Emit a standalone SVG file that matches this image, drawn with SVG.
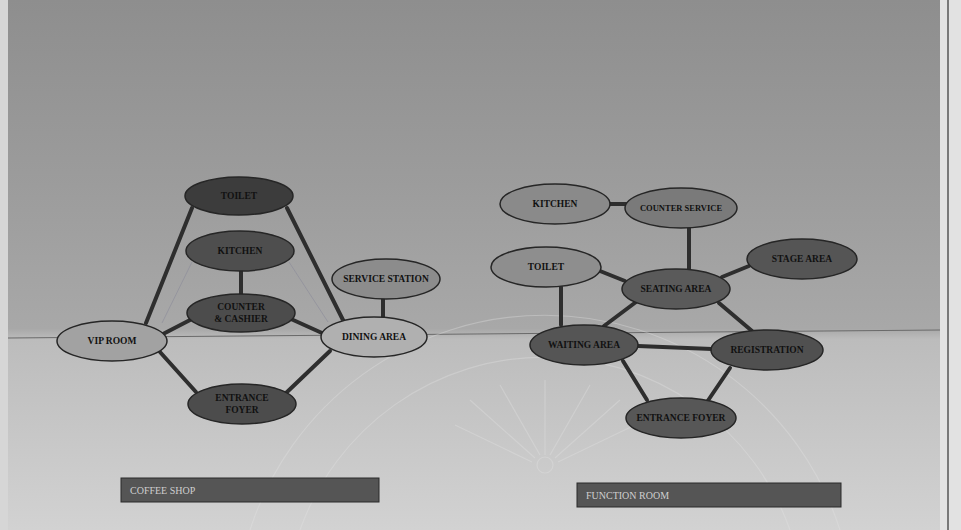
<svg xmlns="http://www.w3.org/2000/svg" width="961" height="530" viewBox="0 0 961 530">
<defs>
<linearGradient id="page" x1="0" y1="0" x2="0" y2="1">
<stop offset="0" stop-color="#8e8e8e"/>
<stop offset="0.35" stop-color="#9c9c9c"/>
<stop offset="0.62" stop-color="#a8a8a8"/>
<stop offset="0.64" stop-color="#bcbcbc"/>
<stop offset="1" stop-color="#d2d2d2"/>
</linearGradient>
<style>
.edge{stroke:#2e2e2e;stroke-width:4;fill:none;stroke-linecap:round}
.faint{stroke:#8a8a9a;stroke-width:1;fill:none;opacity:0.6}
.node{stroke:#262626;stroke-width:1.5}
.lbl{font-family:"Liberation Serif","DejaVu Serif",serif;font-size:9.5px;font-weight:bold;fill:#111;text-anchor:middle;dominant-baseline:central}
.bar{fill:#555;stroke:#2a2a2a;stroke-width:1}
.bartxt{font-family:"Liberation Serif","DejaVu Serif",serif;font-size:10px;fill:#cfcfcf}
</style>
</defs>
<rect x="0" y="0" width="961" height="530" fill="#d6d6d6"/>
<rect x="8" y="0" width="932" height="530" fill="url(#page)"/>
<rect x="940" y="0" width="21" height="530" fill="#e2e2e2"/>
<line x1="948" y1="0" x2="948" y2="530" stroke="#555" stroke-width="1.5"/>
<line x1="8" y1="338" x2="940" y2="330" stroke="#6a6a6a" stroke-width="1"/>
<g id="watermark" stroke="#e4e4e4" stroke-width="1.2" fill="none" opacity="0.35">
<path d="M250 530 A310 310 0 0 1 840 530"/>
<path d="M300 530 A260 260 0 0 1 790 530"/>
<circle cx="545" cy="465" r="8"/>
<line x1="545" y1="455" x2="545" y2="380"/>
<line x1="540" y1="455" x2="500" y2="385"/>
<line x1="550" y1="455" x2="590" y2="385"/>
<line x1="535" y1="458" x2="470" y2="400"/>
<line x1="555" y1="458" x2="620" y2="400"/>
<line x1="532" y1="462" x2="455" y2="425"/>
<line x1="558" y1="462" x2="635" y2="425"/>
</g>
<g id="connectors">
<line class="edge" x1="192" y1="208" x2="146" y2="323"/>
<line class="edge" x1="287" y1="208" x2="343" y2="320"/>
<line class="edge" x1="241" y1="271" x2="241" y2="294"/>
<line class="edge" x1="192" y1="319" x2="163" y2="334"/>
<line class="edge" x1="291" y1="319" x2="322" y2="333"/>
<line class="edge" x1="160" y1="352" x2="196" y2="392"/>
<line class="edge" x1="330" y1="351" x2="286" y2="393"/>
<line class="edge" x1="383" y1="299" x2="383" y2="317"/>
<line class="faint" x1="192" y1="262" x2="162" y2="323"/>
<line class="faint" x1="289" y1="262" x2="328" y2="322"/>
<line class="edge" x1="610" y1="204" x2="626" y2="204"/>
<line class="edge" x1="689" y1="228" x2="689" y2="269"/>
<line class="edge" x1="600" y1="271" x2="625" y2="281"/>
<line class="edge" x1="749" y1="266" x2="722" y2="277"/>
<line class="edge" x1="561" y1="287" x2="561" y2="325"/>
<line class="edge" x1="636" y1="302" x2="604" y2="326"/>
<line class="edge" x1="719" y1="303" x2="752" y2="331"/>
<line class="edge" x1="638" y1="346" x2="712" y2="349"/>
<line class="edge" x1="623" y1="361" x2="647" y2="400"/>
<line class="edge" x1="730" y1="368" x2="707" y2="402"/>
</g>
<g id="cs-toilet"><ellipse class="node" cx="239" cy="196" rx="54" ry="19" fill="#3c3c3c"/><text class="lbl" x="239" y="196">TOILET</text></g>
<g id="cs-kitchen"><ellipse class="node" cx="240" cy="251" rx="54" ry="20" fill="#4e4e4e"/><text class="lbl" x="240" y="251">KITCHEN</text></g>
<g id="cs-counter"><ellipse class="node" cx="241" cy="313" rx="54" ry="19" fill="#4c4c4c"/><text class="lbl" x="241" y="307">COUNTER</text><text class="lbl" x="241" y="319">&amp; CASHIER</text></g>
<g id="cs-service"><ellipse class="node" cx="386" cy="279" rx="54" ry="20" fill="#8c8c8c"/><text class="lbl" x="386" y="279">SERVICE STATION</text></g>
<g id="cs-vip"><ellipse class="node" cx="112" cy="341" rx="55" ry="20" fill="#a2a2a2"/><text class="lbl" x="112" y="341">VIP ROOM</text></g>
<g id="cs-dining"><ellipse class="node" cx="374" cy="337" rx="53" ry="20" fill="#b0b0b0"/><text class="lbl" x="374" y="337">DINING AREA</text></g>
<g id="cs-entrance"><ellipse class="node" cx="242" cy="404" rx="54" ry="20" fill="#4c4c4c"/><text class="lbl" x="242" y="398">ENTRANCE</text><text class="lbl" x="242" y="410">FOYER</text></g>
<g id="fr-kitchen"><ellipse class="node" cx="555" cy="204" rx="55" ry="20" fill="#8a8a8a"/><text class="lbl" x="555" y="204">KITCHEN</text></g>
<g id="fr-counter"><ellipse class="node" cx="681" cy="208" rx="56" ry="20" fill="#7a7a7a"/><text class="lbl" x="681" y="208" style="font-size:8.5px">COUNTER SERVICE</text></g>
<g id="fr-toilet"><ellipse class="node" cx="546" cy="267" rx="55" ry="20" fill="#8e8e8e"/><text class="lbl" x="546" y="267">TOILET</text></g>
<g id="fr-stage"><ellipse class="node" cx="802" cy="259" rx="55" ry="20" fill="#555"/><text class="lbl" x="802" y="259">STAGE AREA</text></g>
<g id="fr-seating"><ellipse class="node" cx="676" cy="289" rx="54" ry="20" fill="#5a5a5a"/><text class="lbl" x="676" y="289">SEATING AREA</text></g>
<g id="fr-waiting"><ellipse class="node" cx="584" cy="345" rx="54" ry="20" fill="#555"/><text class="lbl" x="584" y="345">WAITING AREA</text></g>
<g id="fr-registration"><ellipse class="node" cx="767" cy="350" rx="56" ry="20" fill="#505050"/><text class="lbl" x="767" y="350">REGISTRATION</text></g>
<g id="fr-entrance"><ellipse class="node" cx="681" cy="418" rx="55" ry="20" fill="#575757"/><text class="lbl" x="681" y="418">ENTRANCE FOYER</text></g>
<g id="label-coffee"><rect class="bar" x="121" y="478" width="258" height="24"/><text class="bartxt" x="130" y="494">COFFEE SHOP</text></g>
<g id="label-function"><rect class="bar" x="577" y="483" width="264" height="24"/><text class="bartxt" x="586" y="499">FUNCTION ROOM</text></g>
</svg>
